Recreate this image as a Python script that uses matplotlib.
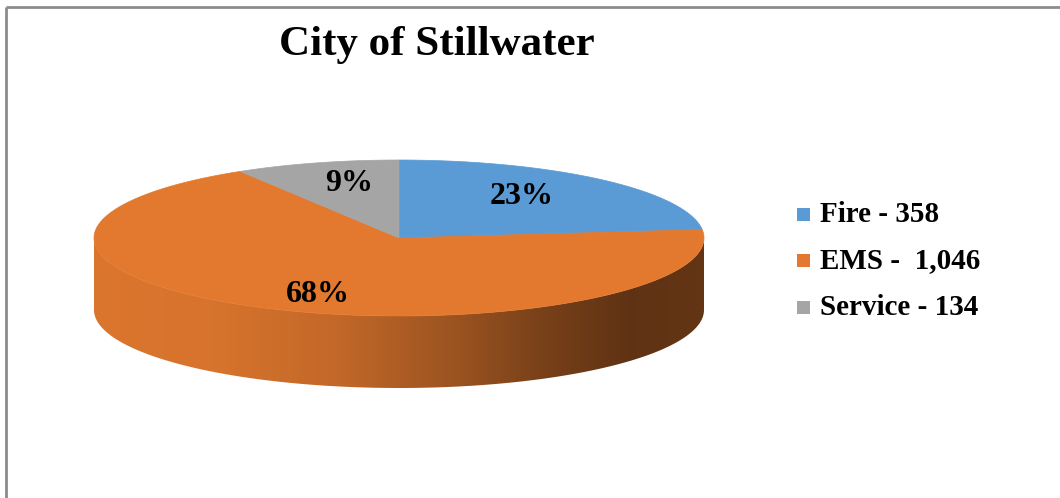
import numpy as np
import matplotlib
matplotlib.use("Agg")
import matplotlib.pyplot as plt
from matplotlib.patches import Polygon, Rectangle
from matplotlib.colors import to_rgb

# ---- data ----
categories = ["Fire", "EMS", "Service"]
values = [358, 1046, 134]
legend_labels = ["Fire - 358", "EMS -  1,046", "Service - 134"]
colors = ["#5B9BD5", "#E2792F", "#A5A5A5"]
title = "City of Stillwater"

# ---- layout (pixel coordinates) ----
W, H = 1060, 498
cx, cy = 399, 238      # centre of top face
a, b = 305, 78         # ellipse semi-axes
depth = 72             # thickness of the 3D pie
serif = ["Liberation Serif", "DejaVu Serif"]

fig = plt.figure(figsize=(W / 100, H / 100), dpi=100)
ax = fig.add_axes([0, 0, 1, 1])
ax.set_xlim(0, W)
ax.set_ylim(H, 0)
ax.axis("off")


def pt(theta_deg, dy=0.0, r=1.0):
    t = np.radians(theta_deg)
    return cx + a * r * np.sin(t), cy - b * r * np.cos(t) + dy


total = float(sum(values))
fracs = [v / total for v in values]
bounds = np.concatenate([[0], np.cumsum(fracs) * 360])

# gradient for the side walls (lighting)
gx = np.linspace(cx - a, cx + a, 400)
ctrl_t = [0.0, 0.2, 0.4, 0.6, 0.75, 0.88, 1.0]
ctrl_f = [0.97, 0.95, 0.86, 0.68, 0.52, 0.42, 0.44]
fac = np.interp((gx - (cx - a)) / (2 * a), ctrl_t, ctrl_f)

# side walls (front half only: 90..270 deg clockwise from top)
for i in range(len(values)):
    s, e = max(bounds[i], 90), min(bounds[i + 1], 270)
    if e <= s:
        continue
    th = np.linspace(s, e, 200)
    top = [pt(t) for t in th]
    bot = [pt(t, depth) for t in th[::-1]]
    poly = Polygon(top + bot, closed=True, facecolor="none", edgecolor="none")
    ax.add_patch(poly)
    base = np.array(to_rgb(colors[i]))
    img = (fac[:, None] * base[None, :])[None, :, :]
    im = ax.imshow(img, extent=(cx - a, cx + a, cy + b + depth, cy - b),
                   aspect="auto", interpolation="bilinear", zorder=1)
    im.set_clip_path(poly)

# top faces
for i in range(len(values)):
    th = np.linspace(bounds[i], bounds[i + 1], 300)
    verts = [(cx, cy)] + [pt(t) for t in th]
    ax.add_patch(Polygon(verts, closed=True, facecolor=colors[i],
                         edgecolor=colors[i], linewidth=0.5, zorder=2))

# percentage labels
for i in range(len(values)):
    mid = np.radians((bounds[i] + bounds[i + 1]) / 2)
    x = cx + a * 0.6 * np.sin(mid)
    y = cy - b * 0.76 * np.cos(mid) + 3
    ax.text(x, y, f"{round(fracs[i] * 100)}%", ha="center", va="center",
            fontsize=23, fontweight="bold", family=serif, color="black", zorder=3)

# title
ax.text(437, 45, title, ha="center", va="center", fontsize=31,
        fontweight="bold", family=serif, color="black")

# legend
for i, lab in enumerate(legend_labels):
    yc = 214 + i * 46.5
    ax.add_patch(Rectangle((797, yc - 6.5), 13, 13, facecolor=colors[i],
                           edgecolor="none"))
    ax.text(820, yc, lab, ha="left", va="center", fontsize=21,
            fontweight="bold", family=serif, color="black")

# chart border (top and left visible)
ax.plot([5.5, W], [7, 7], color="#8C8C8C", lw=2.0, solid_capstyle="butt")
ax.plot([5.5, 5.5], [7, H], color="#8C8C8C", lw=2.0, solid_capstyle="butt")

fig.savefig("out.png", dpi=100)
